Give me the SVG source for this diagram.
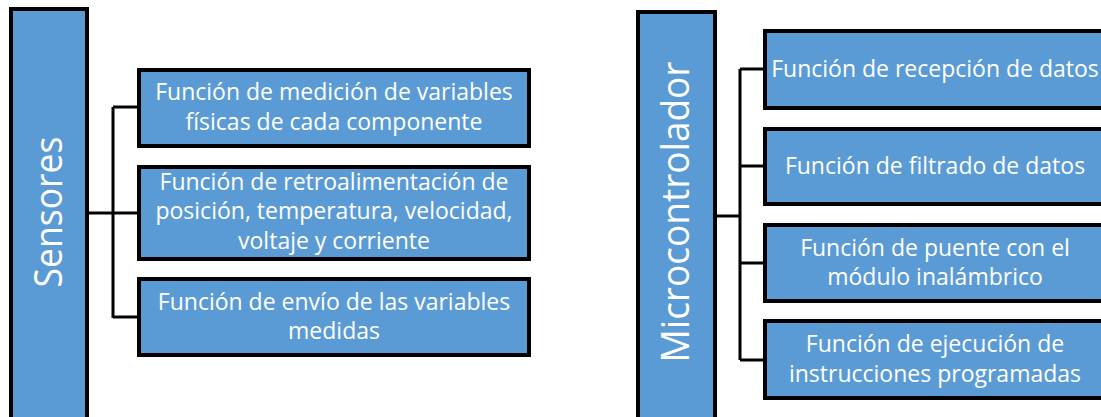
<svg xmlns="http://www.w3.org/2000/svg" width="1101" height="417" viewBox="0 0 1101 417">
<style>
.box{fill:#5B9BD5;stroke:#000;stroke-width:4}
.t{font-family:"Open Sans","Liberation Sans",sans-serif;font-size:23px;fill:#fff;text-anchor:middle}
.big{font-family:"Open Sans","Liberation Sans",sans-serif;font-size:38px;fill:#fff;text-anchor:middle}
.c{fill:none;stroke:#000;stroke-width:3}
</style>
<rect width="1101" height="417" fill="#fff"/>
<g id="connectors">
<path class="c" d="M88 213H113M113 107V318M113 107H137M113 213H137M113 317H137"/>
<path class="c" d="M717 216H740M740 69V360M740 69H765M740 166H765M740 263H765M740 360H765"/>
</g>
<g id="sensores">
<rect class="box" x="11" y="9" width="76" height="410"/>
<text class="big" x="62" y="212" transform="rotate(-90 62 212)" textLength="151" lengthAdjust="spacingAndGlyphs">Sensores</text>
</g>
<g id="s1">
<rect class="box" x="139" y="70" width="390" height="76"/>
<text class="t" x="334" y="100">Función de medición de variables</text>
<text class="t" x="334" y="130">físicas de cada componente</text>
</g>
<g id="s2">
<rect class="box" x="139" y="167" width="390" height="92"/>
<text class="t" x="334" y="190">Función de retroalimentación de</text>
<text class="t" x="334" y="219">posición, temperatura, velocidad,</text>
<text class="t" x="334" y="249">voltaje y corriente</text>
</g>
<g id="s3">
<rect class="box" x="139" y="279" width="390" height="76"/>
<text class="t" x="334" y="310">Función de envío de las variables</text>
<text class="t" x="334" y="339">medidas</text>
</g>
<g id="micro">
<rect class="box" x="638" y="12" width="77" height="410"/>
<text class="big" x="689" y="212" transform="rotate(-90 689 212)" textLength="301" lengthAdjust="spacingAndGlyphs">Microcontrolador</text>
</g>
<g id="m1">
<rect class="box" x="765" y="31" width="342" height="77"/>
<text class="t" x="935" y="77">Función de recepción de datos</text>
</g>
<g id="m2">
<rect class="box" x="765" y="129" width="342" height="75"/>
<text class="t" x="935" y="174">Función de filtrado de datos</text>
</g>
<g id="m3">
<rect class="box" x="765" y="225" width="342" height="76"/>
<text class="t" x="935" y="256">Función de puente con el</text>
<text class="t" x="935" y="285">módulo inalámbrico</text>
</g>
<g id="m4">
<rect class="box" x="765" y="321" width="342" height="77"/>
<text class="t" x="935" y="352">Función de ejecución de</text>
<text class="t" x="935" y="382">instrucciones programadas</text>
</g>
</svg>
